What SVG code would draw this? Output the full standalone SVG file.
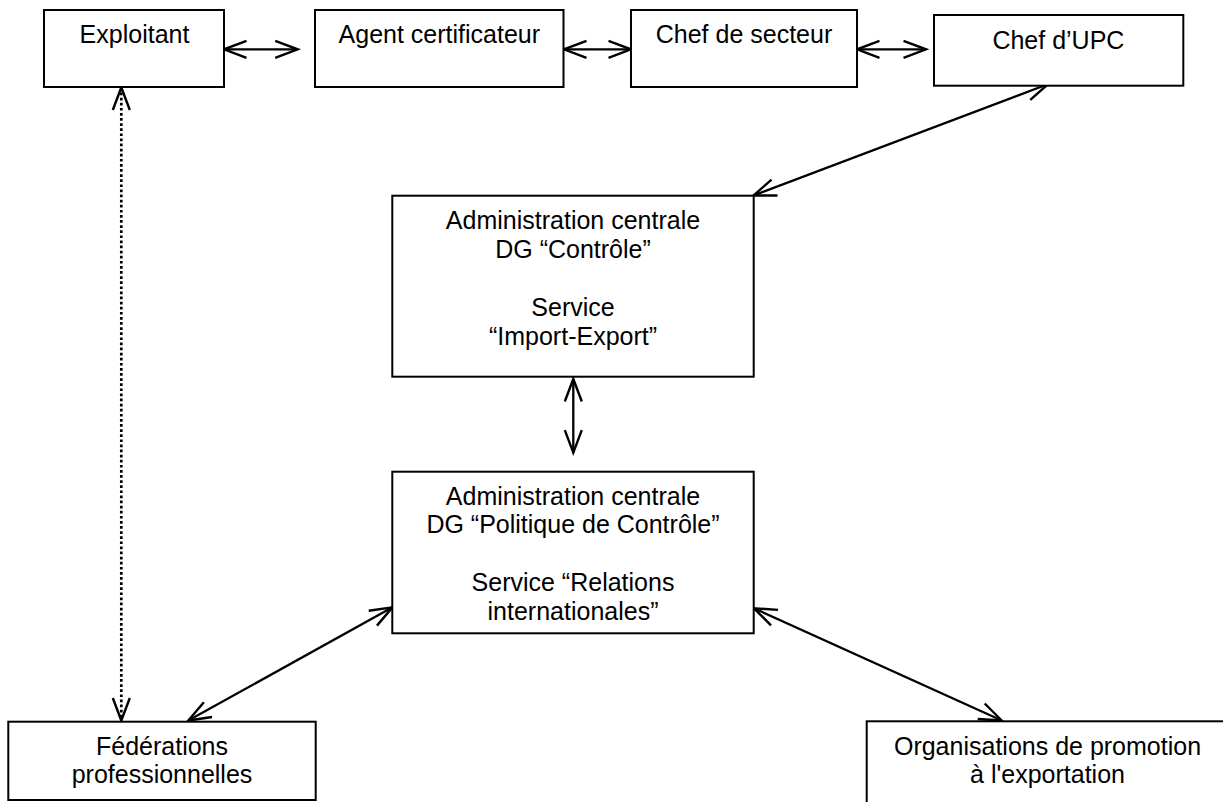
<svg xmlns="http://www.w3.org/2000/svg" width="1223" height="802" viewBox="0 0 1223 802">
<style>
.box{fill:#fff;stroke:#000;stroke-width:2}
.lbl{font-family:"Liberation Sans",Arial,sans-serif;font-size:25px;fill:#000;text-anchor:middle}
.conn{fill:none;stroke:#000;stroke-width:2.3;marker-start:url(#ah);marker-end:url(#ah)}
.dot{stroke-width:2.7;stroke-dasharray:2.7,2.4}
</style>
<defs>
<marker id="ah" viewBox="-25 -12 28 24" markerWidth="28" markerHeight="24" refX="0" refY="0" markerUnits="userSpaceOnUse" orient="auto-start-reverse" overflow="visible">
<path d="M-22.5,-8.5 L0,0 L-22.5,8.5" fill="none" stroke="#000" stroke-width="2.4"/>
</marker>
</defs>
<rect width="1223" height="802" fill="#fff"/>
<g id="connectors">
<line class="conn" x1="224" y1="49.3" x2="297.7" y2="49.3"/>
<line class="conn" x1="564" y1="49.3" x2="631" y2="49.3"/>
<line class="conn" x1="857" y1="49.3" x2="926" y2="49.3"/>
<line class="conn" x1="1048.3" y1="84" x2="753.5" y2="195.5"/>
<line class="conn" x1="573.3" y1="379" x2="573.3" y2="452.7"/>
<line class="conn dot" x1="121.3" y1="87.5" x2="121.3" y2="720.5"/>
<line class="conn" x1="188.3" y1="720.5" x2="392.5" y2="607.3"/>
<line class="conn" x1="754" y1="608.3" x2="1001.7" y2="720.5"/>
</g>
<g id="exploitant">
<rect class="box" x="44" y="10" width="180" height="77"/>
<text class="lbl" x="134.5" y="43.3">Exploitant</text>
</g>
<g id="agent">
<rect class="box" x="315" y="10" width="248.5" height="77"/>
<text class="lbl" x="439.3" y="43.3">Agent certificateur</text>
</g>
<g id="chef-secteur">
<rect class="box" x="631" y="10" width="226" height="77"/>
<text class="lbl" x="744" y="43.3">Chef de secteur</text>
</g>
<g id="chef-upc">
<rect class="box" x="934" y="15" width="249.3" height="70.7"/>
<text class="lbl" x="1058.4" y="49.3">Chef d’UPC</text>
</g>
<g id="admin-controle">
<rect class="box" x="392.3" y="195.7" width="361.4" height="181"/>
<text class="lbl" x="573" y="229.3">Administration centrale</text>
<text class="lbl" x="573" y="258.3">DG “Contrôle”</text>
<text class="lbl" x="573" y="316">Service</text>
<text class="lbl" x="573" y="345">“Import-Export”</text>
</g>
<g id="admin-politique">
<rect class="box" x="392.3" y="471.7" width="361.4" height="161.6"/>
<text class="lbl" x="573" y="505">Administration centrale</text>
<text class="lbl" x="573" y="533.3">DG “Politique de Contrôle”</text>
<text class="lbl" x="573" y="591">Service “Relations</text>
<text class="lbl" x="573" y="620">internationales”</text>
</g>
<g id="federations">
<rect class="box" x="8.3" y="721.7" width="307.4" height="78.3"/>
<text class="lbl" x="162" y="755">Fédérations</text>
<text class="lbl" x="162" y="783.3">professionnelles</text>
</g>
<g id="organisations">
<rect class="box" x="866.7" y="721.3" width="362" height="90"/>
<text class="lbl" x="1047.5" y="755">Organisations de promotion</text>
<text class="lbl" x="1047.5" y="783.3">à l'exportation</text>
</g>
</svg>
